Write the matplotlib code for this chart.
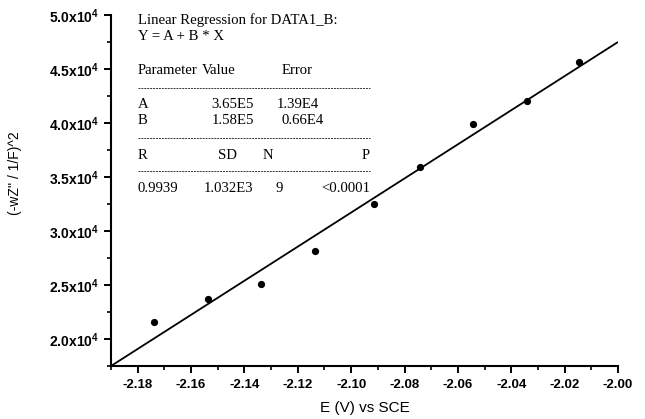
import matplotlib
matplotlib.use("Agg")
import matplotlib.pyplot as plt
from matplotlib.lines import Line2D
from matplotlib.ticker import MultipleLocator, FuncFormatter

# Data
e_volts = [-2.174, -2.1537, -2.1339, -2.1137, -2.0913, -2.0741, -2.0544, -2.0342, -2.0145]
z_values = [2.157e4, 2.370e4, 2.509e4, 2.815e4, 3.25e4, 3.593e4, 3.99e4, 4.207e4, 4.568e4]
fit_x = [-2.19, -2.00]
fit_y = [1.75e4, 4.75e4]

x_ticks = [-2.18, -2.16, -2.14, -2.12, -2.10, -2.08, -2.06, -2.04, -2.02, -2.00]
y_ticks = [2.0e4, 2.5e4, 3.0e4, 3.5e4, 4.0e4, 4.5e4, 5.0e4]

title_lines = ["Linear Regression for DATA1_B:", "Y = A + B * X"]
param_header = ["Parameter", "Value", "Error"]
param_rows = [["A", "3.65E5", "1.39E4"], ["B", "1.58E5", "0.66E4"]]
stat_header = ["R", "SD", "N", "P"]
stat_row = ["0.9939", "1.032E3", "9", "<0.0001"]

plt.rcParams['mathtext.fontset'] = 'custom'
plt.rcParams['mathtext.bf'] = 'Liberation Sans:bold'
plt.rcParams['mathtext.rm'] = 'Liberation Sans'

W, H = 645, 419
fig = plt.figure(figsize=(W / 100, H / 100), dpi=100)
ax = fig.add_axes([111 / W, 1 - 366 / H, (618 - 111) / W, (366 - 15) / H])

ax.plot(fit_x, fit_y, color='black', lw=1.3, solid_capstyle='butt')
ax.plot(e_volts, z_values, 'o', color='black', ms=4.2)

ax.set_xlim(-2.19, -2.00)
ax.set_ylim(1.75e4, 5.0e4)
ax.set_xticks(x_ticks)
ax.set_yticks(y_ticks)
ax.xaxis.set_minor_locator(MultipleLocator(0.01))
ax.yaxis.set_minor_locator(MultipleLocator(0.25e4))

ax.xaxis.set_major_formatter(FuncFormatter(lambda v, p: f"{v:.2f}"))
ax.yaxis.set_major_formatter(FuncFormatter(lambda v, p: r"$\mathbf{%.1fx10^{4}}$" % (v / 1e4)))

for s in ['top', 'right']:
    ax.spines[s].set_visible(False)
for s in ['left', 'bottom']:
    ax.spines[s].set_linewidth(1.5)

ax.tick_params(which='major', direction='out', length=5, width=1.4, pad=4)
ax.tick_params(which='minor', direction='out', length=3, width=1.2)
for lab in ax.get_xticklabels():
    lab.set_fontfamily('Liberation Sans')
    lab.set_fontweight('bold')
    lab.set_fontsize(9.5)
for lab in ax.get_yticklabels():
    lab.set_fontsize(10)

ax.set_xlabel("E (V) vs SCE", family='Liberation Sans', fontsize=11)
ax.xaxis.set_label_coords(0.5, (366 - 408) / 351)
ax.set_ylabel("(-wZ'' / 1/F)^2", family='Liberation Sans', fontsize=10)
ax.yaxis.set_label_coords((15 - 111) / 507, (366 - 173) / 351)
ax.yaxis.label.set_verticalalignment('center')
ax.xaxis.label.set_verticalalignment('center')


def ftext(x, y, s, ha='left'):
    fig.text(x / W, 1 - y / H, s, ha=ha, va='center', family='Liberation Serif', fontsize=10.6)


def dashes(y):
    fig.add_artist(Line2D([138 / W, 370 / W], [1 - y / H, 1 - y / H], transform=fig.transFigure,
                          color='#333333', lw=0.7, linestyle=(0, (2, 1))))


ftext(138, 20, title_lines[0])
ftext(138, 36, title_lines[1])
ftext(138, 70, param_header[0])
ftext(202, 70, param_header[1])
ftext(282, 70, param_header[2])
dashes(88)
ftext(138, 105, param_rows[0][0])
ftext(254, 105, param_rows[0][1], ha='right')
ftext(277, 105, param_rows[0][2])
ftext(138, 121, param_rows[1][0])
ftext(254, 121, param_rows[1][1], ha='right')
ftext(282, 121, param_rows[1][2])
dashes(138)
ftext(138, 155, stat_header[0])
ftext(218, 155, stat_header[1])
ftext(263, 155, stat_header[2])
ftext(370, 155, stat_header[3], ha='right')
dashes(171)
ftext(138, 188, stat_row[0])
ftext(253, 188, stat_row[1], ha='right')
ftext(275, 188, stat_row[2])
ftext(370, 188, stat_row[3], ha='right')

fig.savefig("out.png", dpi=100)
